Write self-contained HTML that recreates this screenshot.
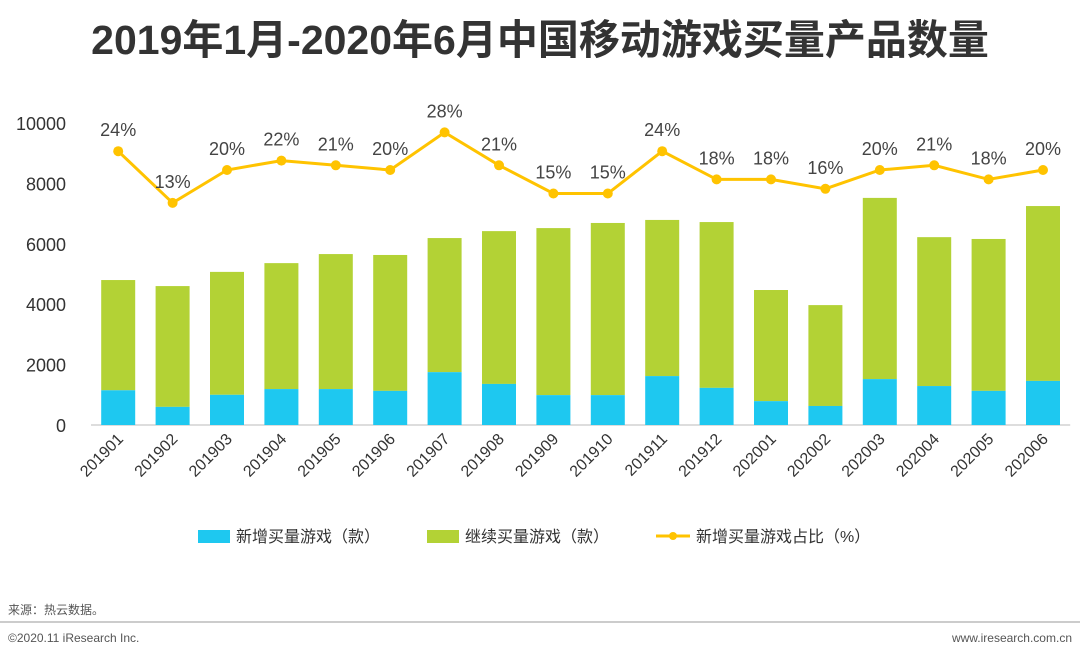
<!DOCTYPE html>
<html><head><meta charset="utf-8"><style>
body{margin:0;background:#fff;width:1080px;height:658px;overflow:hidden;font-family:"Liberation Sans","Noto Sans CJK SC",sans-serif;}
</style></head><body>
<svg id="c" width="1080" height="658" xmlns="http://www.w3.org/2000/svg">
<text x="540" y="54" text-anchor="middle" font-size="41" font-weight="bold" fill="#333">2019年1月-2020年6月中国移动游戏买量产品数量</text>
<g id="plot"></g>
<g>
<rect x="198" y="530" width="32" height="13" fill="#1ec8f0"/>
<text x="236" y="542" font-size="16" fill="#333">新增买量游戏（款）</text>
<rect x="427" y="530" width="32" height="13" fill="#b3d235"/>
<text x="465" y="542" font-size="16" fill="#333">继续买量游戏（款）</text>
<line x1="656" y1="536" x2="690" y2="536" stroke="#ffc300" stroke-width="3"/>
<circle cx="673" cy="536" r="4" fill="#ffc300"/>
<text x="696" y="542" font-size="16" fill="#333">新增买量游戏占比（%）</text>
</g>
<text x="8" y="614" font-size="12" fill="#555">来源：热云数据。</text>
<line x1="0" y1="622" x2="1080" y2="622" stroke="#999" stroke-width="1"/>
<text x="8" y="642" font-size="12" fill="#555">©2020.11 iResearch Inc.</text>
<text x="1072" y="642" font-size="12" fill="#555" text-anchor="end">www.iresearch.com.cn</text>
</svg>
<script>
const categories=["201901","201902","201903","201904","201905","201906","201907","201908","201909","201910","201911","201912","202001","202002","202003","202004","202005","202006"];
const totals=[4800,4600,5070,5360,5660,5630,6190,6420,6520,6690,6790,6720,4470,3970,7520,6220,6160,7250];
const newGames=[1150,600,1000,1190,1190,1130,1750,1360,990,990,1620,1230,790,630,1520,1290,1130,1460];
const ratios=[24,13,20,22,21,20,28,21,15,15,24,18,18,16,20,21,18,20];
const yTicks=[0,2000,4000,6000,8000,10000];
const NS="http://www.w3.org/2000/svg";
const g=document.getElementById('plot');
const y=v=>425-v*0.0302;
const yr=p=>264-p*4.7;
const x0=91,step=54.4,bw=34;
const xc=i=>x0+step*(i+0.5);
function mk(t,a){const e=document.createElementNS(NS,t);for(const k in a)e.setAttribute(k,a[k]);g.appendChild(e);return e;}
let ax=mk('line',{x1:x0,y1:425,x2:x0+step*categories.length,y2:425,stroke:'#bbb'});


yTicks.forEach(v=>{const t=mk('text',{x:66,y:y(v)+7,'text-anchor':'end','font-size':18,fill:'#333'});t.textContent=v;

});
categories.forEach((c,i)=>{
const cx=xc(i);
const b1=mk('rect',{x:cx-bw/2,y:y(totals[i]),width:bw,height:y(newGames[i])-y(totals[i]),fill:'#b3d235'});


const b2=mk('rect',{x:cx-bw/2,y:y(newGames[i]),width:bw,height:425-y(newGames[i]),fill:'#1ec8f0'});


const t=mk('text',{x:cx+6,y:440,'text-anchor':'end','font-size':16,fill:'#333',transform:`rotate(-45 ${cx+6} 440)`});t.textContent=c;


});
const pts=ratios.map((p,i)=>xc(i)+','+yr(p)).join(' ');
const pl=mk('polyline',{points:pts,fill:'none',stroke:'#ffc300','stroke-width':3});


ratios.forEach((p,i)=>{
const c=mk('circle',{cx:xc(i),cy:yr(p),r:5,fill:'#ffc300'});


const t=mk('text',{x:xc(i),y:yr(p)-15,'text-anchor':'middle','font-size':18,fill:'#444'});t.textContent=p+'%';


});
</script>
</body></html>
